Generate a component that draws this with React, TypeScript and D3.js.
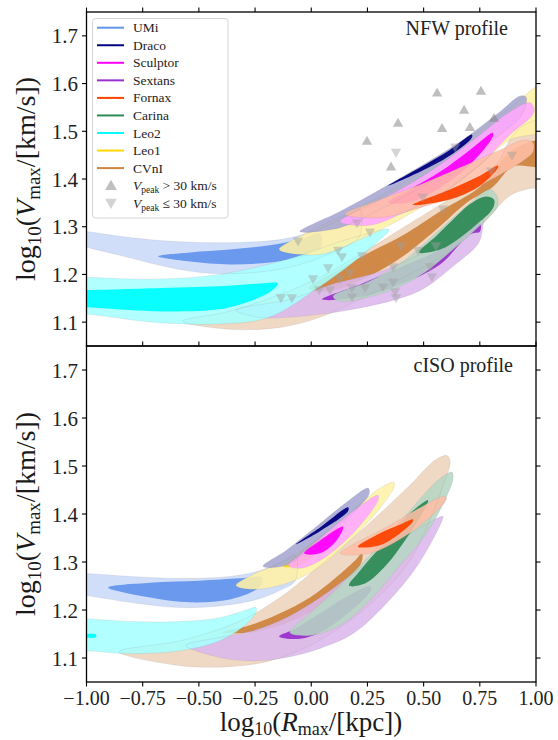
import React from "react";
import * as d3 from "d3";

type Pt = [number, number];
// a contour region: upper edge (left -> right) and lower edge (left -> right)
type Band = [Pt[], Pt[]];

const galaxies = ["UMi", "Draco", "Sculptor", "Sextans", "Fornax", "Carina", "Leo2", "Leo1", "CVnI"];
const galaxyColors = ["#6495ED", "#000080", "#FF00FF", "#9932CC", "#FF4500", "#2E8B57", "#00FFFF", "#FFD700", "#CD853F"];
const drawOrder = ["CVnI", "Sextans", "UMi", "Leo2", "Carina", "Leo1", "Draco", "Sculptor", "Fornax"];

const xTicks = [-1, -0.75, -0.5, -0.25, 0, 0.25, 0.5, 0.75, 1];
const xTickLabels = ["\u22121.00", "\u22120.75", "\u22120.50", "\u22120.25", "0.00", "0.25", "0.50", "0.75", "1.00"];
const yTicks = [1.1, 1.2, 1.3, 1.4, 1.5, 1.6, 1.7];
const yTickLabels = ["1.1", "1.2", "1.3", "1.4", "1.5", "1.6", "1.7"];

// NFW profile, outer (light) contours
const nfwOuter: Record<string, Band> = {
  UMi: [
    [[-1.04, 1.292], [-1.0, 1.29], [-0.851, 1.28], [-0.673, 1.271], [-0.495, 1.267], [-0.317, 1.267], [-0.139, 1.273], [-0.006, 1.288], [0.083, 1.305], [0.172, 1.326], [0.217, 1.336]],
    [[-1.04, 1.262], [-1.0, 1.257], [-0.851, 1.24], [-0.673, 1.219], [-0.495, 1.204], [-0.317, 1.202], [-0.139, 1.211], [-0.006, 1.227], [0.083, 1.244], [0.172, 1.263], [0.217, 1.282]],
  ],
  Draco: [
    [[-0.05, 1.29], [0.128, 1.332], [0.306, 1.378], [0.484, 1.426], [0.662, 1.478], [0.84, 1.541], [0.929, 1.574], [0.956, 1.572]],
    [[0.128, 1.298], [0.306, 1.336], [0.484, 1.382], [0.662, 1.434], [0.84, 1.493], [0.929, 1.53], [0.956, 1.558]],
  ],
  Sculptor: [
    [[0.128, 1.311], [0.261, 1.346], [0.395, 1.378], [0.573, 1.43], [0.751, 1.493], [0.884, 1.541], [0.973, 1.56], [0.991, 1.549]],
    [[0.261, 1.303], [0.395, 1.326], [0.573, 1.367], [0.751, 1.43], [0.884, 1.493], [0.973, 1.528], [0.991, 1.541]],
  ],
  Sextans: [
    [[-0.335, 1.125], [-0.095, 1.148], [0.083, 1.178], [0.306, 1.206], [0.484, 1.242], [0.617, 1.273], [0.706, 1.298], [0.764, 1.315]],
    [[-0.228, 1.11], [-0.112, 1.11], [0.186, 1.127], [0.479, 1.165], [0.631, 1.217], [0.746, 1.267], [0.764, 1.305]],
  ],
  Fornax: [
    [[0.15, 1.326], [0.306, 1.357], [0.484, 1.388], [0.662, 1.424], [0.84, 1.461], [0.951, 1.482], [0.987, 1.476]],
    [[0.306, 1.319], [0.484, 1.34], [0.662, 1.367], [0.84, 1.409], [0.951, 1.441], [0.987, 1.457]],
  ],
  Carina: [
    [[0.097, 1.154], [0.261, 1.186], [0.408, 1.227], [0.573, 1.294], [0.693, 1.344], [0.795, 1.378], [0.827, 1.363]],
    [[0.123, 1.144], [0.333, 1.163], [0.479, 1.196], [0.631, 1.252], [0.778, 1.315], [0.827, 1.342]],
  ],
  Leo2: [
    [[-1.04, 1.194], [-1.0, 1.194], [-0.704, 1.19], [-0.41, 1.2], [-0.112, 1.231], [0.186, 1.277], [0.346, 1.294]],
    [[-1.04, 1.117], [-1.0, 1.117], [-0.704, 1.1], [-0.41, 1.096], [-0.188, 1.11], [0.034, 1.173], [0.186, 1.225], [0.306, 1.273]],
  ],
  Leo1: [
    [[-0.143, 1.252], [-0.05, 1.28], [0.083, 1.311], [0.217, 1.34], [0.395, 1.388], [0.573, 1.441], [0.751, 1.503], [0.884, 1.549], [1.04, 1.6]],
    [[0.039, 1.242], [0.217, 1.273], [0.395, 1.315], [0.573, 1.367], [0.751, 1.43], [0.884, 1.482], [1.04, 1.505]],
  ],
  CVnI: [
    [[-0.571, 1.102], [-0.362, 1.123], [-0.139, 1.158], [0.039, 1.194], [0.217, 1.242], [0.395, 1.294], [0.573, 1.346], [0.751, 1.399], [0.84, 1.441], [0.884, 1.482], [0.951, 1.514], [1.04, 1.522]],
    [[-0.362, 1.085], [-0.139, 1.089], [0.039, 1.11], [0.217, 1.148], [0.395, 1.19], [0.573, 1.236], [0.751, 1.3], [0.884, 1.365], [0.973, 1.38], [1.04, 1.384]],
  ],
};

// NFW profile, inner (dark) contours
const nfwInner: Record<string, Band> = {
  UMi: [
    [[-0.682, 1.238], [-0.539, 1.246], [-0.362, 1.252], [-0.184, 1.261], [-0.05, 1.273], [0.039, 1.286]],
    [[-0.539, 1.227], [-0.362, 1.221], [-0.184, 1.225], [-0.05, 1.236], [0.039, 1.252]],
  ],
  Draco: [
    [[0.342, 1.386], [0.484, 1.424], [0.617, 1.461], [0.715, 1.493]],
    [[0.484, 1.415], [0.617, 1.449], [0.715, 1.487]],
  ],
  Sculptor: [
    [[0.342, 1.351], [0.439, 1.378], [0.573, 1.415], [0.706, 1.461], [0.808, 1.497]],
    [[0.439, 1.351], [0.573, 1.382], [0.706, 1.43], [0.808, 1.489]],
  ],
  Sextans: [
    [[0.048, 1.148], [0.217, 1.179], [0.395, 1.215], [0.573, 1.252], [0.706, 1.298], [0.751, 1.307]],
    [[0.217, 1.152], [0.395, 1.179], [0.573, 1.221], [0.706, 1.284], [0.751, 1.29]],
  ],
  Fornax: [
    [[0.453, 1.346], [0.617, 1.378], [0.751, 1.407], [0.831, 1.428]],
    [[0.617, 1.357], [0.751, 1.386], [0.831, 1.424]],
  ],
  Carina: [
    [[0.479, 1.246], [0.555, 1.28], [0.631, 1.315], [0.702, 1.346], [0.773, 1.363], [0.813, 1.357]],
    [[0.573, 1.252], [0.662, 1.277], [0.751, 1.311], [0.795, 1.33], [0.813, 1.344]],
  ],
  Leo2: [
    [[-1.04, 1.167], [-1.0, 1.167], [-0.704, 1.171], [-0.41, 1.175], [-0.228, 1.181], [-0.148, 1.181]],
    [[-1.04, 1.131], [-1.0, 1.131], [-0.704, 1.123], [-0.41, 1.127], [-0.273, 1.144], [-0.184, 1.163]],
  ],
  Leo1: [
    [[0.284, 1.336], [0.484, 1.388], [0.662, 1.441], [0.795, 1.482]],
    [[0.484, 1.378], [0.662, 1.428], [0.795, 1.472]],
  ],
  CVnI: [
    [[-0.01, 1.171], [0.128, 1.212], [0.275, 1.25], [0.408, 1.282], [0.586, 1.336], [0.751, 1.384], [0.898, 1.461], [1.04, 1.48]],
    [[0.083, 1.165], [0.257, 1.196], [0.408, 1.238], [0.573, 1.301], [0.693, 1.351], [0.809, 1.384], [0.898, 1.426], [1.04, 1.428]],
  ],
};

// cISO profile, outer (light) contours
const cisoOuter: Record<string, Band> = {
  UMi: [
    [[-1.04, 1.277], [-1.0, 1.276], [-0.806, 1.27], [-0.584, 1.266], [-0.362, 1.27], [-0.228, 1.282], [-0.139, 1.299], [-0.072, 1.314]],
    [[-1.04, 1.232], [-1.0, 1.23], [-0.806, 1.216], [-0.584, 1.205], [-0.362, 1.211], [-0.228, 1.224], [-0.139, 1.241], [-0.072, 1.261]],
  ],
  Draco: [
    [[-0.215, 1.291], [-0.112, 1.324], [0.034, 1.378], [0.15, 1.422], [0.253, 1.454]],
    [[-0.112, 1.293], [0.034, 1.341], [0.15, 1.387], [0.257, 1.441]],
  ],
  Sculptor: [
    [[-0.103, 1.293], [-0.05, 1.314], [0.039, 1.349], [0.186, 1.406], [0.297, 1.439]],
    [[-0.05, 1.287], [0.039, 1.303], [0.186, 1.36], [0.297, 1.429]],
  ],
  Sextans: [
    [[-0.557, 1.126], [-0.406, 1.143], [-0.259, 1.157], [-0.112, 1.184], [0.039, 1.226], [0.186, 1.276], [0.333, 1.324], [0.479, 1.37], [0.586, 1.395]],
    [[-0.406, 1.101], [-0.259, 1.094], [-0.112, 1.101], [0.039, 1.12], [0.186, 1.151], [0.333, 1.213], [0.479, 1.297], [0.586, 1.391]],
  ],
  Fornax: [
    [[0.128, 1.318], [0.195, 1.339], [0.333, 1.372], [0.479, 1.412], [0.586, 1.437], [0.6, 1.435]],
    [[0.261, 1.318], [0.408, 1.351], [0.524, 1.391], [0.6, 1.429]],
  ],
  Carina: [
    [[-0.095, 1.153], [-0.006, 1.193], [0.128, 1.251], [0.261, 1.314], [0.395, 1.383], [0.506, 1.443], [0.573, 1.474], [0.626, 1.487]],
    [[-0.006, 1.147], [0.128, 1.168], [0.261, 1.22], [0.395, 1.293], [0.506, 1.355], [0.595, 1.429], [0.631, 1.474]],
  ],
  Leo2: [
    [[-1.04, 1.182], [-1.0, 1.182], [-0.806, 1.176], [-0.584, 1.176], [-0.406, 1.184], [-0.295, 1.199], [-0.246, 1.205]],
    [[-1.04, 1.115], [-1.0, 1.115], [-0.806, 1.109], [-0.584, 1.115], [-0.406, 1.136], [-0.295, 1.168], [-0.246, 1.195]],
  ],
  Leo1: [
    [[-0.335, 1.251], [-0.259, 1.274], [-0.112, 1.303], [0.034, 1.351], [0.186, 1.408], [0.306, 1.454], [0.368, 1.466]],
    [[-0.259, 1.243], [-0.112, 1.255], [0.034, 1.289], [0.186, 1.351], [0.306, 1.412], [0.368, 1.456]],
  ],
  CVnI: [
    [[-0.855, 1.113], [-0.584, 1.136], [-0.362, 1.168], [-0.228, 1.199], [-0.095, 1.241], [0.039, 1.293], [0.172, 1.345], [0.306, 1.401], [0.439, 1.46], [0.551, 1.512], [0.604, 1.522], [0.617, 1.512]],
    [[-0.584, 1.084], [-0.362, 1.082], [-0.184, 1.094], [-0.006, 1.126], [0.172, 1.178], [0.306, 1.23], [0.439, 1.303], [0.528, 1.387], [0.595, 1.47], [0.617, 1.502]],
  ],
};

// cISO profile, inner (dark) contours
const cisoInner: Record<string, Band> = {
  UMi: [
    [[-0.904, 1.247], [-0.717, 1.257], [-0.495, 1.261], [-0.317, 1.266], [-0.219, 1.268]],
    [[-0.717, 1.226], [-0.539, 1.216], [-0.362, 1.222], [-0.25, 1.241], [-0.219, 1.255]],
  ],
  Draco: [
    [[-0.068, 1.337], [0.039, 1.372], [0.164, 1.414]],
    [[0.039, 1.364], [0.164, 1.406]],
  ],
  Sculptor: [
    [[-0.032, 1.318], [0.039, 1.345], [0.141, 1.374]],
    [[0.039, 1.318], [0.106, 1.341], [0.141, 1.368]],
  ],
  Sextans: [
    [[-0.143, 1.145], [-0.072, 1.161], [0.039, 1.193], [0.15, 1.226], [0.261, 1.249]],
    [[-0.05, 1.14], [0.039, 1.153], [0.15, 1.188], [0.266, 1.241]],
  ],
  Fornax: [
    [[0.208, 1.332], [0.306, 1.36], [0.395, 1.378], [0.453, 1.389]],
    [[0.306, 1.335], [0.395, 1.36], [0.453, 1.385]],
  ],
  Carina: [
    [[0.168, 1.251], [0.217, 1.282], [0.333, 1.345], [0.439, 1.401], [0.519, 1.429]],
    [[0.239, 1.255], [0.333, 1.293], [0.417, 1.345], [0.484, 1.393], [0.519, 1.425]],
  ],
  Leo2: [
    [[-1.04, 1.15], [-1.0, 1.15], [-0.958, 1.149]],
    [[-1.04, 1.142], [-1.0, 1.142], [-0.958, 1.143]],
  ],
  Leo1: [
    [[-0.126, 1.291], [-0.05, 1.32], [0.039, 1.351], [0.106, 1.372]],
    [[-0.05, 1.293], [0.039, 1.324], [0.106, 1.366]],
  ],
  CVnI: [
    [[-0.397, 1.153], [-0.273, 1.168], [-0.139, 1.193], [-0.006, 1.226], [0.106, 1.266], [0.195, 1.303], [0.226, 1.318]],
    [[-0.273, 1.153], [-0.139, 1.168], [-0.006, 1.195], [0.106, 1.23], [0.195, 1.276], [0.226, 1.303]],
  ],
};

// subhaloes with V_peak > 30 km/s
const peakHigh: Pt[] = [
  [0.248, 1.478], [0.386, 1.516], [0.355, 1.424], [0.56, 1.579], [0.755, 1.583],
  [0.68, 1.543], [0.582, 1.505], [0.706, 1.507], [0.813, 1.526],
];
// subhaloes with V_peak <= 30 km/s
const peakLow: Pt[] = [
  [0.377, 1.457], [0.497, 1.363], [0.586, 1.338], [0.64, 1.468], [0.893, 1.451], [0.8, 1.418],
  [-0.059, 1.271], [0.204, 1.309], [0.261, 1.29], [0.119, 1.252], [0.137, 1.238], [0.226, 1.24],
  [0.399, 1.261], [0.475, 1.252], [0.555, 1.261], [0.075, 1.215], [0.172, 1.204], [0.128, 1.192],
  [0.008, 1.192], [0.035, 1.169], [0.083, 1.169], [0.181, 1.173], [0.239, 1.173], [0.319, 1.175],
  [0.364, 1.185], [0.364, 1.217], [0.528, 1.217], [0.537, 1.196], [0.373, 1.165], [0.377, 1.152],
  [0.181, 1.154], [-0.086, 1.152], [-0.135, 1.152],
];

const LEFT = 86.5;
const RIGHT = 536;
const FONT = "'Liberation Serif', 'DejaVu Serif', serif";

const colorOf = (g: string) => galaxyColors[galaxies.indexOf(g)];
const tint = (c: string) => d3.interpolateRgb("#ffffff", c)(0.35);

const x = d3.scaleLinear().domain([-1, 1]).range([LEFT, RIGHT]);

function Panel(props: {
  id: string;
  top: number;
  bottom: number;
  outer: Record<string, Band>;
  inner: Record<string, Band>;
  title: string;
  titleX: number;
  titleY: number;
  points: boolean;
  bottomLabels: boolean;
}) {
  const { id, top, bottom, outer, inner } = props;
  const y = d3.scaleLinear().domain([1.05, 1.75]).range([bottom, top]);
  const line = d3
    .line<Pt>()
    .x((d) => x(d[0]))
    .y((d) => y(d[1]))
    .curve(d3.curveCatmullRomClosed.alpha(0.5));
  const shape = (b: Band) => line([...b[0], ...b[1].slice().reverse()]) || "";
  const tri = d3.symbol().type(d3.symbolTriangle).size(46)() || "";
  const cy = (top + bottom) / 2;

  return (
    <g>
      <defs>
        <clipPath id={id}>
          <rect x={LEFT} y={top} width={RIGHT - LEFT} height={bottom - top} />
        </clipPath>
      </defs>
      <g clipPath={`url(#${id})`}>
        {drawOrder.map((g) => (
          <g key={g}>
            <path d={shape(outer[g])} fill={tint(colorOf(g))} fillOpacity={0.88} />
            <path d={shape(inner[g])} fill={colorOf(g)} fillOpacity={0.95} />
          </g>
        ))}
        {drawOrder.map((g) => (
          <path key={"o" + g} d={shape(outer[g])} fill="none" stroke="#8a8a8a" strokeOpacity={0.18} strokeWidth={0.8} />
        ))}
        {props.points &&
          peakLow.map((p, i) => (
            <path key={"l" + i} d={tri} transform={`translate(${x(p[0])},${y(p[1])}) rotate(180)`} fill="#a0a0a0" fillOpacity={0.45} />
          ))}
        {props.points &&
          peakHigh.map((p, i) => (
            <path key={"h" + i} d={tri} transform={`translate(${x(p[0])},${y(p[1])})`} fill="#808080" fillOpacity={0.5} />
          ))}
      </g>

      {/* frame */}
      <rect x={LEFT} y={top} width={RIGHT - LEFT} height={bottom - top} fill="none" stroke="#000" strokeWidth={1.3} />

      {/* ticks */}
      {xTicks.map((t) => (
        <line key={"xt" + t} x1={x(t)} x2={x(t)} y1={top} y2={top - 4.5} stroke="#000" strokeWidth={1.1} />
      ))}
      {props.bottomLabels &&
        xTicks.map((t, i) => (
          <g key={"xb" + t}>
            <line x1={x(t)} x2={x(t)} y1={bottom} y2={bottom + 4.5} stroke="#000" strokeWidth={1.1} />
            <text x={x(t)} y={bottom + 22.5} textAnchor="middle" fontSize={20} fill="#222">
              {xTickLabels[i]}
            </text>
          </g>
        ))}
      {yTicks.map((t, i) => (
        <g key={"yt" + t}>
          <line x1={LEFT} x2={LEFT - 4.5} y1={y(t)} y2={y(t)} stroke="#000" strokeWidth={1.1} />
          <line x1={RIGHT} x2={RIGHT + 4.5} y1={y(t)} y2={y(t)} stroke="#000" strokeWidth={1.1} />
          <text x={78} y={y(t) + 7.5} textAnchor="end" fontSize={21} fill="#222">
            {yTickLabels[i]}
          </text>
        </g>
      ))}

      {/* axis label */}
      <text transform={`translate(35,${cy}) rotate(-90)`} textAnchor="middle" fontSize={28} fill="#1a1a1a">
        log
        <tspan fontSize={19} dy={6}>10</tspan>
        <tspan dy={-6}>(</tspan>
        <tspan fontStyle="italic">V</tspan>
        <tspan fontSize={19} dy={5}>max</tspan>
        <tspan dy={-5}>/[km/s])</tspan>
      </text>

      <text x={props.titleX} y={props.titleY} textAnchor="end" fontSize={20} fill="#222">
        {props.title}
      </text>
    </g>
  );
}

function Legend() {
  const x0 = 92.5;
  const y0 = 18.5;
  const row = 17.55;
  const tri = d3.symbol().type(d3.symbolTriangle).size(60)() || "";
  return (
    <g>
      <rect x={x0} y={y0} width={135.5} height={199.5} rx={3} fill="#fff" fillOpacity={0.85} stroke="#d4d4d4" strokeWidth={1} />
      {galaxies.map((g, i) => (
        <g key={g}>
          <line x1={97} x2={124} y1={27.7 + i * row} y2={27.7 + i * row} stroke={galaxyColors[i]} strokeWidth={2} />
          <text x={133} y={27.7 + i * row + 4.5} fontSize={13.5} fill="#222">
            {g}
          </text>
        </g>
      ))}
      <path d={tri} transform={`translate(111,${27.7 + 9 * row + 1})`} fill="#808080" fillOpacity={0.5} />
      <text x={133} y={27.7 + 9 * row + 4.5} fontSize={13.5} fill="#222">
        <tspan fontStyle="italic">V</tspan>
        <tspan fontSize={9.5} dy={3}>peak</tspan>
        <tspan dy={-3}>{" > 30 km/s"}</tspan>
      </text>
      <path d={tri} transform={`translate(111,${27.7 + 10 * row - 1}) rotate(180)`} fill="#a0a0a0" fillOpacity={0.45} />
      <text x={133} y={27.7 + 10 * row + 4.5} fontSize={13.5} fill="#222">
        <tspan fontStyle="italic">V</tspan>
        <tspan fontSize={9.5} dy={3}>peak</tspan>
        <tspan dy={-3}>{" \u2264 30 km/s"}</tspan>
      </text>
    </g>
  );
}

export default function App() {
  return (
    <svg
      width={558}
      height={740}
      style={{ position: "absolute", left: 0, top: 0, background: "#fff" }}
      fontFamily={FONT}
    >
      <rect width={558} height={740} fill="#fff" />
      <Panel id="clipNfw" top={12} bottom={346} outer={nfwOuter} inner={nfwInner} title="NFW profile" titleX={508} titleY={35} points={true} bottomLabels={false} />
      <Panel id="clipIso" top={346} bottom={682} outer={cisoOuter} inner={cisoInner} title="cISO profile" titleX={513} titleY={371.5} points={false} bottomLabels={true} />
      <Legend />
      <text x={311} y={731} textAnchor="middle" fontSize={27} fill="#1a1a1a">
        log
        <tspan fontSize={18} dy={4}>10</tspan>
        <tspan dy={-4}>(</tspan>
        <tspan fontStyle="italic">R</tspan>
        <tspan fontSize={18} dy={4}>max</tspan>
        <tspan dy={-4}>/[kpc])</tspan>
      </text>
    </svg>
  );
}
